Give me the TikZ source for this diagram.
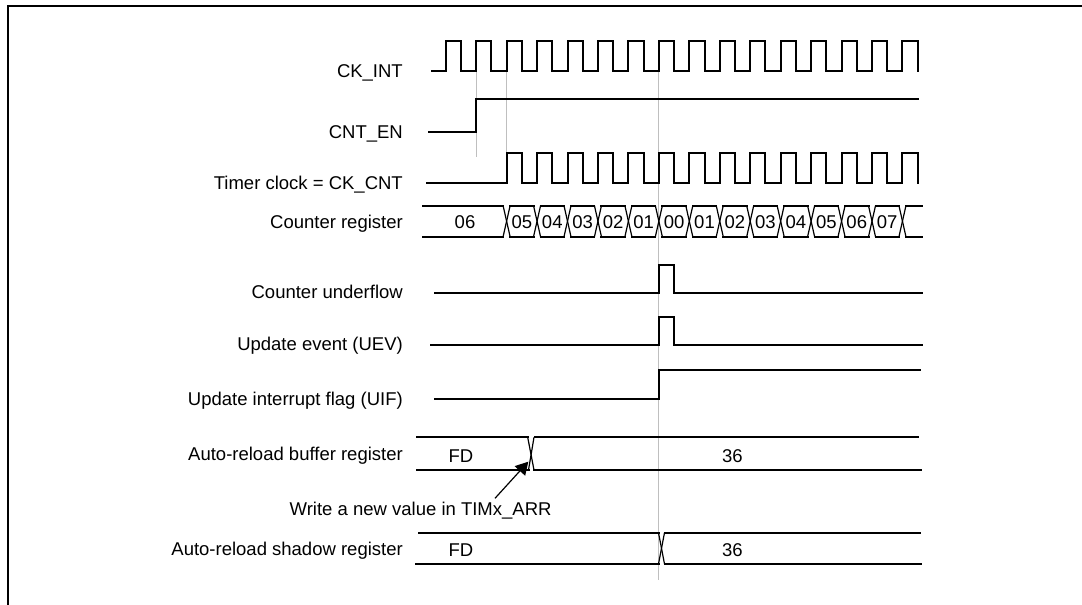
\documentclass[tikz,border=0pt]{standalone}
\usepackage{fontspec}
\setmainfont{Liberation Sans}
\usetikzlibrary{arrows.meta}
\begin{document}
\begin{tikzpicture}[x=1pt,y=-1pt,
  sig/.style={line width=2pt, line join=miter, line cap=rect},
  diag/.style={line width=1.2pt},
  guide/.style={line width=1pt, draw=black!25},
  lbl/.style={anchor=base east, inner sep=0pt, font=\fontsize{18.5}{22}\selectfont},
  val/.style={anchor=base, inner sep=0pt, font=\fontsize{18.5}{22}\selectfont},
  valw/.style={anchor=base west, inner sep=0pt, font=\fontsize{18.5}{22}\selectfont}]
\useasboundingbox (0,0) rectangle (1082,605);
% frame
\draw[line width=2pt] (8,606) -- (8,5.7) -- (1083,5.7);
% guide lines
\draw[guide] (476.15,70.7) -- (476.15,156.7);
\draw[guide] (506.6,70.7) -- (506.6,153.3);
\draw[guide] (658.85,70.7) -- (658.85,580);
% labels
\node[lbl] (lckint) at (403,77.3) {CK\_INT};
\node[lbl] (lcnten) at (403,138.3) {CNT\_EN};
\node[lbl] (lckcnt) at (403,189.9) {Timer clock = CK\_CNT};
\node[lbl] (lcntreg) at (403,228) {Counter register};
\node[lbl] (lunder) at (403,298.5) {Counter underflow};
\node[lbl] (luev) at (403,350.7) {Update event (UEV)};
\node[lbl] (luif) at (403,405.3) {Update interrupt flag (UIF)};
\node[lbl] (lbuf) at (403,460) {Auto-reload buffer register};
\node[lbl] (lshadow) at (403,555) {Auto-reload shadow register};
% CK_INT
\draw[sig] (431.7,70.7) foreach \k in {0,...,15}{ -- ({445.7+30.45*\k},70.7) -- ({445.7+30.45*\k},41) -- ({460.92+30.45*\k},41) -- ({460.92+30.45*\k},70.7) };
% CNT_EN
\draw[sig] (429.3,131.7) -- (476.15,131.7) -- (476.15,99.3) -- (918,99.3);
% CK_CNT
\draw[sig] (427.3,183.3) foreach \k in {2,...,15}{ -- ({445.7+30.45*\k},183.3) -- ({445.7+30.45*\k},153.3) -- ({460.92+30.45*\k},153.3) -- ({460.92+30.45*\k},183.3) };
% Counter register bus
\draw[sig] (423.3,205.7) -- (503.1,205.7);
\draw[sig] (423.3,236.7) -- (503.1,236.7);
\foreach \k in {2,...,14}{
  \draw[sig] ({449.2+30.45*\k},205.7) -- ({442.2+30.45*(\k+1)},205.7);
  \draw[sig] ({449.2+30.45*\k},236.7) -- ({442.2+30.45*(\k+1)},236.7);
}
\foreach \k in {2,...,15}{
  \draw[diag] ({442.2+30.45*\k},205.7) -- ({449.2+30.45*\k},236.7);
  \draw[diag] ({442.2+30.45*\k},236.7) -- ({449.2+30.45*\k},205.7);
}
\draw[sig] (905.95,205.7) -- (922,205.7);
\draw[sig] (905.95,236.7) -- (922,236.7);
\node[val] (c06) at (465,228.5) {06};
\foreach \k/\v in {2/05,3/04,4/03,5/02,6/01,7/00,8/01,9/02,10/03,11/04,12/05,13/06,14/07}{
  \node[val] (cv\k) at ({460.925+30.45*\k},228.5) {\v};
}
% Counter underflow
\draw[sig] (435,292.7) -- (658.85,292.7) -- (658.85,265) -- (673.5,265) -- (673.5,292.7) -- (922,292.7);
% UEV
\draw[sig] (431,344.7) -- (658.85,344.7) -- (658.85,316.7) -- (673.5,316.7) -- (673.5,344.7) -- (922,344.7);
% UIF
\draw[sig] (435,399.3) -- (658.85,399.3) -- (658.85,370) -- (920,370);
% Auto-reload buffer register
\draw[sig] (417.3,437.3) -- (527.7,437.3);
\draw[sig] (417.3,470) -- (528.5,470);
\draw[diag] (527.7,437.3) -- (534,470);
\draw[diag] (528.5,470) -- (534,437.3);
\draw[sig] (535,437.3) -- (918,437.3);
\draw[sig] (534,470) -- (921,470);
\node[valw] (bfd) at (448.3,462.3) {FD};
\node[val] (b36) at (732.3,462.3) {36};
% Auto-reload shadow register
\draw[sig] (419.3,532.7) -- (658.5,532.7);
\draw[sig] (416,564) -- (658.5,564);
\draw[diag] (658.5,532.7) -- (664.5,564);
\draw[diag] (658.5,564) -- (664.5,532.7);
\draw[sig] (664.5,532.7) -- (920,532.7);
\draw[sig] (664.5,564) -- (921,564);
\node[valw] (sfd) at (448.3,556) {FD};
\node[val] (s36) at (732.3,556) {36};
% annotation
\node[valw] (write) at (289.5,515) {Write a new value in TIMx\_ARR};
\coordinate (wstart) at (495,498.3);
\coordinate (wtip) at (528.3,461.7);
\draw[line width=1.2pt, -{Triangle[length=12.5pt,width=14pt]}] (wstart) -- (wtip);
\end{tikzpicture}
\end{document}
